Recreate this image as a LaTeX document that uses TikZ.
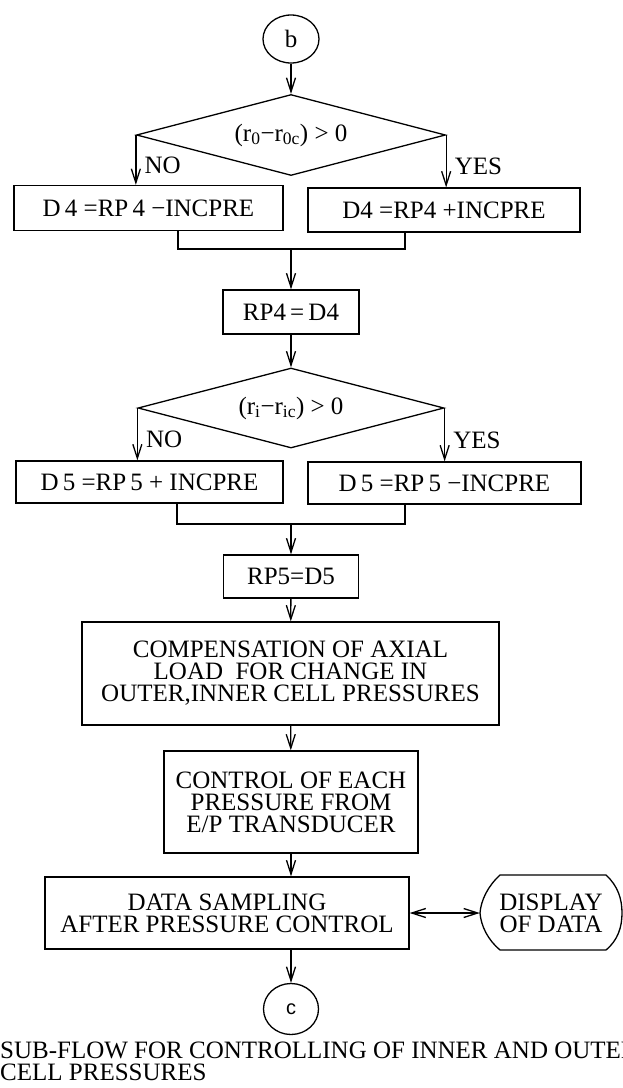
\documentclass[tikz,border=0pt]{standalone}
\usepackage{fontspec}
\setmainfont{Liberation Serif}
\newfontfamily\connfont{Liberation Sans}
\usetikzlibrary{shapes.geometric,arrows.meta}
\begin{document}
\begin{tikzpicture}[x=1pt,y=-1pt,
  every node/.style={font=\fontsize{25}{22}\selectfont},
  proc/.style={draw,line width=1.3pt,inner sep=0pt,align=center},
  dec/.style={draw,diamond,aspect=3.8,line width=1.3pt,inner sep=0pt},
  conn/.style={draw,ellipse,line width=1.3pt,inner sep=0pt},
  arr/.style={line width=1.3pt,-{Straight Barb[length=14pt,width=9pt]}},
  darr/.style={line width=1.3pt,{Straight Barb[length=14pt,width=9pt]}-{Straight Barb[length=14pt,width=9pt]}},
  ln/.style={line width=1.3pt},
  lbl/.style={anchor=west,inner sep=0pt,xshift=8pt}
]
\useasboundingbox (0,0) rectangle (623,1088);

% nodes
\node[conn,minimum width=56pt,minimum height=48pt] (b) at (291,39) {b};
\node[dec,minimum width=309pt,minimum height=81pt] (d1) at (291,135) {(r\textsubscript{0}−r\textsubscript{0c}) > 0};
\node[proc,minimum width=269pt,minimum height=45pt] (l1) at (148.5,208) {D\,4 =RP\,4 −INCPRE};
\node[proc,minimum width=272pt,minimum height=44pt] (r1) at (444,210) {D4 =RP4 +INCPRE};
\node[proc,minimum width=136pt,minimum height=44pt] (rp4) at (291,312) {RP4\,=\,D4};
\node[dec,minimum width=306pt,minimum height=80pt] (d2) at (291,408) {(r\textsubscript{i}−r\textsubscript{ic}) > 0};
\node[proc,minimum width=267pt,minimum height=42pt] (l2) at (149.5,482) {D\,5 =RP\,5 + INCPRE};
\node[proc,minimum width=273pt,minimum height=42pt] (r2) at (444.5,483) {D\,5 =RP\,5 −INCPRE};
\node[proc,minimum width=135pt,minimum height=43pt] (rp5) at (291,576.5) {RP5=D5};
\node[proc,minimum width=417pt,minimum height=103pt] (comp) at (290.5,673.5) {COMPENSATION OF AXIAL\\LOAD\ \ FOR CHANGE IN\\OUTER,INNER CELL PRESSURES};
\node[proc,minimum width=254pt,minimum height=102pt] (ctrl) at (291,802) {CONTROL OF EACH\\PRESSURE FROM\\E/P TRANSDUCER};
\node[proc,minimum width=364pt,minimum height=72pt] (data) at (227,913) {DATA SAMPLING\\AFTER PRESSURE CONTROL};
\node[inner sep=0pt,minimum width=142pt,minimum height=75pt,align=center] (disp) at (551,913) {DISPLAY\\OF DATA};
\node[conn,minimum width=55pt,minimum height=51pt,font=\connfont\fontsize{20}{20}\selectfont] (c) at (291,1009) {c};

% display outline
\draw[ln] (500,875) -- (606,875)
  .. controls (618,886) and (622,899) .. (622,913)
  .. controls (622,927) and (618,940) .. (606,950)
  -- (500,950)
  .. controls (488,940) and (481,926) .. (480,913)
  .. controls (481,900) and (488,886) .. (500,875) -- cycle;

% junction coordinates
\coordinate (j1l) at (178,249);
\coordinate (j1r) at (405,249);
\coordinate (j1) at (291,249);
\coordinate (j2l) at (177,524);
\coordinate (j2r) at (405,524);
\coordinate (j2) at (291,524);

% connectors
\draw[arr] (b) -- (d1);
\draw[arr] (d1.west) -- node[lbl,pos=0.6] {NO} (d1.west |- l1.north);
\draw[arr] (d1.east) -- node[lbl,pos=0.6] {YES} (d1.east |- r1.north);
\draw[ln] (j1l |- l1.south) -- (j1l) -- (j1r) -- (j1r |- r1.south);
\draw[arr] (j1) -- (j1 |- rp4.north);
\draw[arr] (rp4) -- (d2);
\draw[arr] (d2.west) -- node[lbl,pos=0.6] {NO} (d2.west |- l2.north);
\draw[arr] (d2.east) -- node[lbl,pos=0.6] {YES} (d2.east |- r2.north);
\draw[ln] (j2l |- l2.south) -- (j2l) -- (j2r) -- (j2r |- r2.south);
\draw[arr] (j2) -- (j2 |- rp5.north);
\draw[arr] (rp5) -- (comp);
\draw[arr] (comp) -- (ctrl);
\draw[arr] (ctrl.south) -- (ctrl.south |- data.north);
\draw[darr] (data.east) -- (disp.west);
\draw[arr] (data.south -| c) -- (c);

% caption
\node[anchor=base west,inner sep=0pt] (cap1) at (0,1058) {SUB-FLOW FOR CONTROLLING OF INNER AND OUTER};
\node[anchor=base west,inner sep=0pt] (cap2) at (0,1080) {CELL PRESSURES};
\end{tikzpicture}
\end{document}
